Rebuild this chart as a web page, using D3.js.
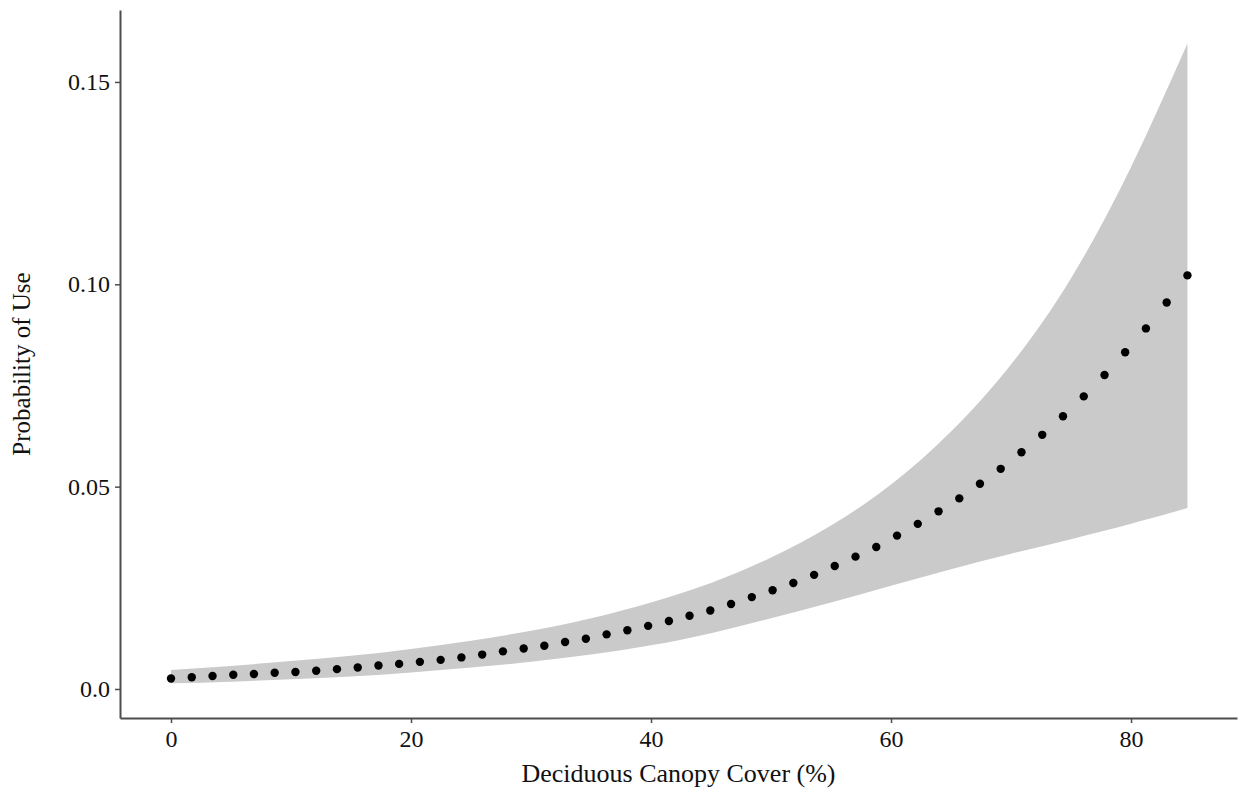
<!DOCTYPE html>
<html>
<head>
<meta charset="utf-8">
<script src="https://cdn.jsdelivr.net/npm/d3@7"></script>
<style>
  html, body { margin: 0; padding: 0; background: #ffffff; }
  svg { display: block; }
  text { font-family: "Liberation Serif", "Times New Roman", Times, serif; }
</style>
</head>
<body>
<svg id="chart" width="1240" height="796"></svg>
<script>
// Deciduous canopy cover grid (%) for predicted points
const canopy = [0, 1.73, 3.46, 5.19, 6.91, 8.64, 10.37, 12.10, 13.83, 15.56,
  17.29, 19.01, 20.74, 22.47, 24.20, 25.93, 27.66, 29.39, 31.11, 32.84,
  34.57, 36.30, 38.03, 39.76, 41.49, 43.21, 44.94, 46.67, 48.40, 50.13,
  51.86, 53.59, 55.31, 57.04, 58.77, 60.50, 62.23, 63.96, 65.69, 67.41,
  69.14, 70.87, 72.60, 74.33, 76.06, 77.79, 79.51, 81.24, 82.97, 84.70];

// Predicted probability of use (points)
const probUse = [0.0026, 0.0029, 0.0032, 0.0035, 0.0037, 0.0040, 0.0042, 0.0045, 0.0049, 0.0053,
  0.0058, 0.0062, 0.0067, 0.0072, 0.0078, 0.0085, 0.0093, 0.0100, 0.0107, 0.0116,
  0.0124, 0.0135, 0.0145, 0.0156, 0.0168, 0.0181, 0.0194, 0.0210, 0.0227, 0.0244,
  0.0262, 0.0282, 0.0304, 0.0327, 0.0351, 0.0379, 0.0408, 0.0439, 0.0471, 0.0507,
  0.0544, 0.0585, 0.0628, 0.0674, 0.0723, 0.0776, 0.0832, 0.0891, 0.0955, 0.1022];

// Confidence band (read at these canopy values)
const bandCanopy = [0, 5, 10, 15, 20, 25, 30, 35, 40, 45, 50, 55, 60, 65, 70, 75, 80, 84.7];
const bandLower = [0.0014, 0.0018, 0.0024, 0.0031, 0.0041, 0.0053, 0.0067, 0.0085, 0.0108, 0.0138,
  0.0175, 0.0214, 0.0255, 0.0296, 0.0334, 0.0370, 0.0408, 0.0447];
const bandUpper = [0.0047, 0.0057, 0.0069, 0.0082, 0.0099, 0.0119, 0.0144, 0.0175, 0.0214, 0.0262,
  0.0325, 0.0404, 0.0505, 0.0636, 0.0802, 0.1015, 0.1290, 0.1595];

// Axis ticks
const xTicks = [0, 20, 40, 60, 80];
const xTickLabels = ["0", "20", "40", "60", "80"];
const yTicks = [0, 0.05, 0.10, 0.15];
const yTickLabels = ["0.0", "0.05", "0.10", "0.15"];

const xTitle = "Deciduous Canopy Cover (%)";
const yTitle = "Probability of Use";

const svg = d3.select("#chart");

const x = d3.scaleLinear().domain([-4.25, 88.83]).range([120, 1237]);
const y = d3.scaleLinear().domain([-0.00717, 0.16778]).range([718, 10]);

const bandData = bandCanopy.map((c, i) => ({ c, lo: bandLower[i], hi: bandUpper[i] }));
const area = d3.area()
  .x(d => x(d.c))
  .y0(d => y(d.lo))
  .y1(d => y(d.hi))
  .curve(d3.curveNatural);

svg.append("path")
  .datum(bandData)
  .attr("d", area)
  .attr("fill", "#cacaca");

const pts = canopy.map((c, i) => ({ c, p: probUse[i] }));
svg.append("g").selectAll("circle")
  .data(pts)
  .join("circle")
  .attr("cx", d => x(d.c))
  .attr("cy", d => y(d.p))
  .attr("r", 4.2)
  .attr("fill", "#000000");

// Axes
const xAxis = d3.axisBottom(x)
  .tickValues(xTicks)
  .tickFormat((d, i) => xTickLabels[i])
  .tickSize(5)
  .tickSizeOuter(0)
  .tickPadding(7);

const yAxis = d3.axisLeft(y)
  .tickValues(yTicks)
  .tickFormat((d, i) => yTickLabels[i])
  .tickSize(5)
  .tickSizeOuter(0)
  .tickPadding(5);

const gx = svg.append("g").attr("transform", "translate(0,718)").call(xAxis);
const gy = svg.append("g").attr("transform", "translate(120,0)").call(yAxis);

[gx, gy].forEach(g => {
  g.select(".domain").attr("stroke", "#4d4d4d").attr("stroke-width", 2);
  g.selectAll(".tick line").attr("stroke", "#4d4d4d").attr("stroke-width", 1.5);
  g.selectAll(".tick text")
    .attr("font-family", "'Liberation Serif', 'Times New Roman', serif")
    .attr("font-size", 24)
    .attr("fill", "#111111");
});

// Titles
svg.append("text")
  .attr("x", 678.5)
  .attr("y", 782)
  .attr("text-anchor", "middle")
  .attr("font-size", 26)
  .attr("fill", "#111111")
  .text(xTitle);

svg.append("text")
  .attr("transform", "translate(30,364) rotate(-90)")
  .attr("text-anchor", "middle")
  .attr("font-size", 25)
  .attr("fill", "#111111")
  .text(yTitle);
</script>
</body>
</html>
